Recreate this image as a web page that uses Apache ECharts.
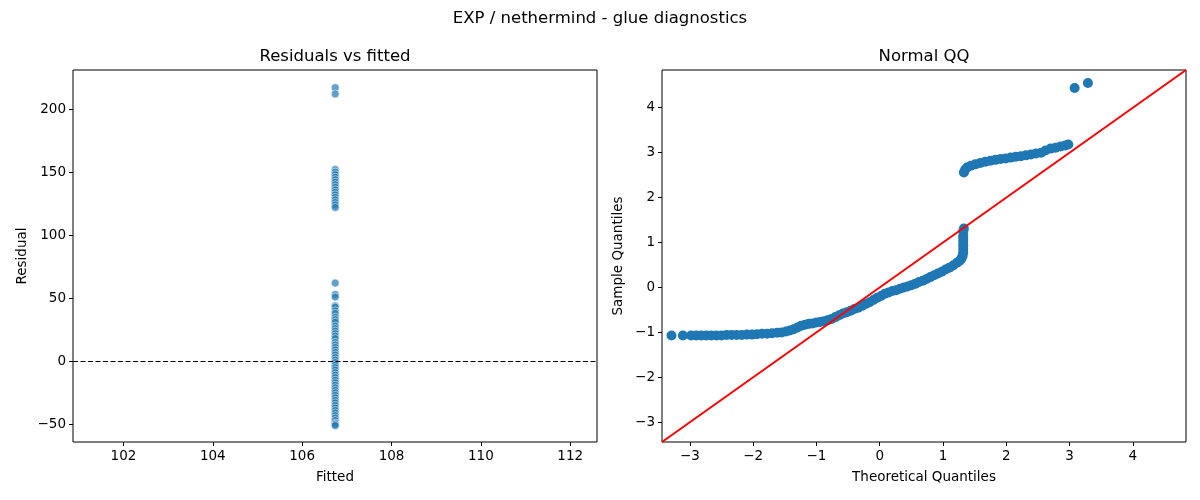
<!DOCTYPE html>
<html>
<head>
<meta charset="utf-8">
<script src="https://cdn.jsdelivr.net/npm/echarts@6/dist/echarts.min.js"></script>
<style>
  html, body { margin: 0; padding: 0; background: #fff; }
  #chart { width: 1200px; height: 500px; }
</style>
</head>
<body>
<div id="chart"></div>
<script>
// residuals vs fitted (all fitted values sit on one value)
const fittedValue = 106.74;
const residuals = [
  217, 212,
  152, 150, 148, 146, 144, 142, 140, 138, 136, 134, 132, 130, 128, 126, 124, 122,
  62, 53, 51, 44, 43, 40, 38, 35, 33, 31, 28, 26, 24, 22, 20, 18, 15, 13, 11, 9, 7, 5, 3, 1,
  -1, -3, -5, -7, -9, -11, -13, -15, -17, -19, -21, -23, -25, -27, -29, -31, -33, -35,
  -37, -39, -41, -43, -45, -47, -49, -50, -51
];
const fittedTicks = [102, 104, 106, 108, 110, 112];
const residualTicks = [-50, 0, 50, 100, 150, 200];
const fittedRange = [100.87, 112.60];
const residualRange = [-64, 231];

// normal QQ: theoretical vs sample quantiles
const qqTheoretical = [
  -3.29, -3.11, -2.98, -2.90, -2.82, -2.74, -2.66, -2.58, -2.50, -2.42,
  -2.34, -2.26, -2.18, -2.10, -2.02, -1.94, -1.86, -1.78, -1.70, -1.62,
  -1.55, -1.48, -1.42, -1.36, -1.30, -1.24, -1.18, -1.12, -1.06, -1.00,
  -0.94, -0.88, -0.82, -0.76, -0.70, -0.64, -0.58, -0.52, -0.46, -0.40,
  -0.34, -0.28, -0.22, -0.16, -0.10, -0.04, 0.02, 0.08, 0.14, 0.20,
  0.26, 0.32, 0.38, 0.44, 0.50, 0.56, 0.62, 0.68, 0.74, 0.80,
  0.86, 0.92, 0.98, 1.04, 1.10, 1.16, 1.22, 1.26, 1.29, 1.31,
  1.32, 1.32, 1.32, 1.32, 1.32, 1.32, 1.32, 1.33,
  1.33, 1.35, 1.38, 1.44, 1.51, 1.59, 1.67, 1.75, 1.83, 1.91,
  1.99, 2.07, 2.15, 2.23, 2.31, 2.39, 2.47, 2.55, 2.62, 2.70,
  2.78, 2.86, 2.93, 2.98, 3.08, 3.29
];
const qqSample = [
  -1.07, -1.07, -1.07, -1.07, -1.07, -1.07, -1.07, -1.07, -1.07, -1.06,
  -1.06, -1.06, -1.06, -1.05, -1.05, -1.04, -1.03, -1.03, -1.02, -1.01,
  -1.00, -0.98, -0.96, -0.93, -0.89, -0.85, -0.83, -0.81, -0.80, -0.78,
  -0.77, -0.75, -0.73, -0.70, -0.66, -0.62, -0.58, -0.55, -0.52, -0.48,
  -0.45, -0.41, -0.37, -0.33, -0.28, -0.23, -0.19, -0.14, -0.11, -0.08,
  -0.06, -0.03, 0.00, 0.02, 0.05, 0.08, 0.12, 0.15, 0.19, 0.23,
  0.27, 0.31, 0.35, 0.40, 0.44, 0.49, 0.55, 0.59, 0.64, 0.70,
  0.78, 0.86, 0.94, 1.02, 1.10, 1.15, 1.25, 1.31,
  2.56, 2.62, 2.67, 2.71, 2.74, 2.77, 2.80, 2.82, 2.84, 2.86,
  2.87, 2.89, 2.91, 2.92, 2.94, 2.96, 2.98, 3.00, 3.05, 3.09,
  3.11, 3.14, 3.16, 3.18, 4.44, 4.55
];
const qqTicks = [-3, -2, -1, 0, 1, 2, 3, 4];
const qqRange = [-3.44, 4.84];

const FONT = 'DejaVu Sans';
const minus = (v) => String(v).replace('-', '\u2212');

function axisCommon(ticks, range, name, gap, isY) {
  return {
    type: 'value',
    min: range[0],
    max: range[1],
    name: name,
    nameLocation: 'middle',
    nameGap: gap,
    nameRotate: isY ? 90 : 0,
    nameTextStyle: { color: '#000', fontFamily: FONT, fontSize: 13.5 },
    axisLine: { show: false, onZero: false },
    axisTick: {
      show: true, length: 4, inside: false,
      customValues: ticks,
      lineStyle: { color: '#000', width: 1 }
    },
    axisLabel: {
      show: true, margin: 7,
      customValues: ticks,
      color: '#000', fontFamily: FONT, fontSize: 13.5,
      formatter: (v) => minus(v)
    },
    splitLine: { show: false }
  };
}

const chart = echarts.init(document.getElementById('chart'));
chart.setOption({
  backgroundColor: '#fff',
  animation: false,
  title: [
    { text: 'EXP / nethermind - glue diagnostics', left: 600, top: 10, textAlign: 'center', padding: 0,
      textStyle: { fontFamily: FONT, fontSize: 16.5, fontWeight: 'normal', color: '#000' } },
    { text: 'Residuals vs fitted', left: 335, top: 48, textAlign: 'center', padding: 0,
      textStyle: { fontFamily: FONT, fontSize: 16.5, fontWeight: 'normal', color: '#000' } },
    { text: 'Normal QQ', left: 924, top: 48, textAlign: 'center', padding: 0,
      textStyle: { fontFamily: FONT, fontSize: 16.5, fontWeight: 'normal', color: '#000' } }
  ],
  grid: [
    { left: 73, top: 70, width: 524, height: 372, show: true, borderColor: '#000', borderWidth: 1, backgroundColor: 'transparent' },
    { left: 662, top: 70, width: 524, height: 372, show: true, borderColor: '#000', borderWidth: 1, backgroundColor: 'transparent' }
  ],
  xAxis: [
    Object.assign({ gridIndex: 0 }, axisCommon(fittedTicks, fittedRange, 'Fitted', 28, false)),
    Object.assign({ gridIndex: 1 }, axisCommon(qqTicks, qqRange, 'Theoretical Quantiles', 28, false))
  ],
  yAxis: [
    Object.assign({ gridIndex: 0 }, axisCommon(residualTicks, residualRange, 'Residual', 44, true)),
    Object.assign({ gridIndex: 1 }, axisCommon(qqTicks, qqRange, 'Sample Quantiles', 37, true))
  ],
  series: [
    {
      type: 'scatter',
      xAxisIndex: 0, yAxisIndex: 0,
      symbolSize: 8,
      data: residuals.map((r) => [fittedValue, r]),
      itemStyle: { color: 'rgba(31,119,180,0.7)', opacity: 1, borderColor: 'rgba(255,255,255,0.8)', borderWidth: 0.7 },
      markLine: {
        silent: true,
        symbol: 'none',
        label: { show: false },
        lineStyle: { color: '#000', width: 1.2, type: [5, 2.5] },
        data: [{ yAxis: 0 }],
        z: 5
      }
    },
    {
      type: 'scatter',
      xAxisIndex: 1, yAxisIndex: 1,
      symbolSize: 10,
      data: qqTheoretical.map((t, i) => [t, qqSample[i]]),
      itemStyle: { color: '#1f77b4', opacity: 1 }
    },
    {
      type: 'line',
      xAxisIndex: 1, yAxisIndex: 1,
      symbol: 'none',
      data: [[qqRange[0], qqRange[0]], [qqRange[1], qqRange[1]]],
      lineStyle: { color: '#ff0000', width: 2 },
      z: 4
    }
  ]
});
</script>
</body>
</html>
